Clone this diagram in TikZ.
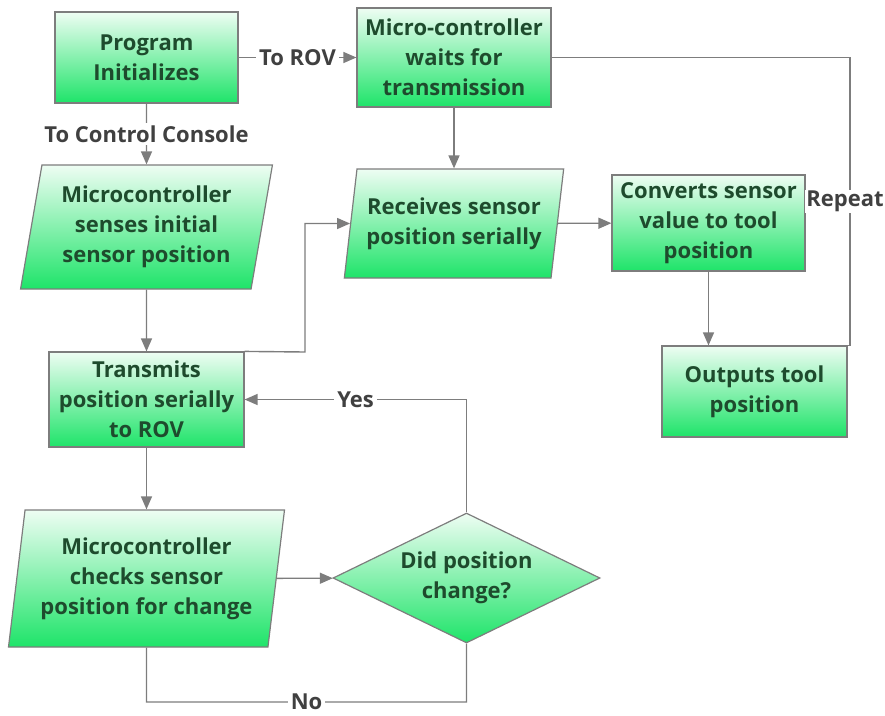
\documentclass[tikz,border=0pt]{standalone}
\usepackage{fontspec}
\setmainfont{Open Sans}
\usepackage{tikz}
\usepackage{xcolor}
\usetikzlibrary{shapes.geometric, arrows.meta, positioning, calc}
\definecolor{cTop}{RGB}{238,253,243}
\definecolor{cBot}{RGB}{30,228,105}
\definecolor{cEdge}{RGB}{125,125,125}
\definecolor{cText}{RGB}{30,75,45}
\definecolor{cLabel}{RGB}{64,64,64}
\tikzset{
	boxfont/.style={font=\fontsize{22}{30}\selectfont\bfseries, text=cText, align=center},
	process/.style ={rectangle, draw=cEdge, line width=1.2pt, top color=cTop, bottom color=cBot, boxfont},
	io/.style      ={trapezium, trapezium stretches=true, draw=cEdge, line width=1.2pt, top color=cTop, bottom color=cBot, boxfont, inner sep=0pt},
	decision/.style={diamond, aspect=2, draw=cEdge, line width=1.2pt, top color=cTop, bottom color=cBot, boxfont, inner sep=0pt},
	flowarrow/.style={-{Triangle[length=13pt, width=11pt]}, draw=cEdge, line width=1.4pt},
	plainline/.style={draw=cEdge, line width=1.4pt},
	lbl/.style={fill=white, inner sep=3pt, text=cLabel, font=\fontsize{22}{24}\selectfont\bfseries},
}
\begin{document}
\begin{tikzpicture}[x=1pt, y=-1pt]
	\useasboundingbox (0,0) rectangle (885,715);
	% left column
	\node[process, minimum width=183, minimum height=91] (init) at (146.5,57.5) {Program\\ Initializes};
	\node[io, minimum width=252, minimum height=124, trapezium left angle=78, trapezium right angle=102] (sense) at (146.5,227) {Microcontroller\\ senses initial\\ sensor position};
	\node[process, minimum width=195, minimum height=95] (trans) at (146.5,399.5) {Transmits\\ position serially\\ to ROV};
	\node[io, minimum width=277, minimum height=137, trapezium left angle=80, trapezium right angle=100] (check) at (146.5,578.5) {Microcontroller\\ checks sensor\\ position for change};
	% right side
	\node[process, minimum width=194, minimum height=99] (wait) at (454,57.5) {Micro-controller\\ waits for\\ transmission};
	\node[io, minimum width=220, minimum height=109, trapezium left angle=77.6, trapezium right angle=102.4] (recv) at (454,223.5) {Receives sensor\\ position serially};
	\node[process, minimum width=193, minimum height=96] (conv) at (708.5,223) {Converts sensor\\ value to tool\\ position};
	\node[process, minimum width=185, minimum height=91] (outp) at (754.5,391.5) {Outputs tool\\ position};
	\node[decision, minimum width=267, minimum height=130] (dec) at (466.5,578) {Did position\\ change?};
	\coordinate (jt) at (305,352);
	\coordinate (rp) at (850,57.5);
	\coordinate (nb) at (146.5,702);
	% connectors
	\draw[flowarrow] (init) -- node[lbl]{To ROV} (wait);
	\draw[flowarrow] (init) -- node[lbl]{To Control Console} (sense);
	\draw[flowarrow] (wait) -- (recv);
	\draw[flowarrow] (sense) -- (trans);
	\draw[flowarrow] (trans.north east) -- (jt) |- (recv);
	\draw[flowarrow] (recv) -- (conv);
	\draw[flowarrow] (conv) -- (outp.north -| conv);
	\draw[plainline] (outp.north east) -| node[lbl, pos=0.75, inner sep=1pt, xshift=-5pt]{Repeat} (rp) -- (wait.east);
	\draw[flowarrow] (trans) -- (check);
	\draw[flowarrow] (check) -- (dec);
	\draw[flowarrow] (dec.north) |- node[lbl, pos=0.75]{Yes} (trans.east);
	\draw[plainline] (check.south) -- (nb) -| node[lbl, pos=0.25]{No} (dec.south);
\end{tikzpicture}
\end{document}
